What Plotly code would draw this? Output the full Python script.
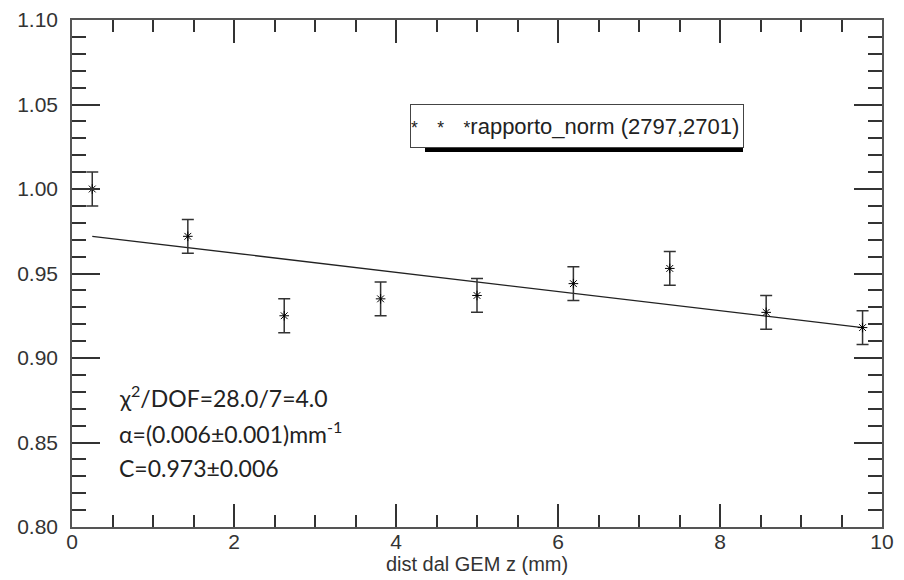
import plotly.graph_objects as go

dist_z = [0.25, 1.43, 2.62, 3.81, 5.00, 6.19, 7.38, 8.57, 9.76]
rapporto_norm = [1.000, 0.972, 0.925, 0.935, 0.937, 0.944, 0.953, 0.927, 0.918]
errors = [0.010, 0.010, 0.010, 0.010, 0.010, 0.010, 0.010, 0.010, 0.010]
fit_x = [0.25, 9.76]
fit_y = [0.972, 0.918]

legend_text = ('<span style="font-size:17.5px">*&nbsp;&nbsp;&nbsp;&nbsp;*&nbsp;&nbsp;&nbsp;&nbsp;*</span>'
               'rapporto_norm (2797,2701)')
fit_lines = ["χ<sup>2</sup>/DOF=28.0/7=4.0",
             "α=(0.006±0.001)mm<sup>-1</sup>",
             "C=0.973±0.006"]
fit_text_y = [0.877, 0.856, 0.835]

fig = go.Figure()
fig.add_trace(go.Scatter(x=fit_x, y=fit_y, mode="lines",
                         line=dict(color="#222", width=1.3), showlegend=False))
fig.add_trace(go.Scatter(x=dist_z, y=rapporto_norm, mode="markers",
                         marker=dict(symbol="asterisk-open", size=8, color="black",
                                     line=dict(color="black", width=1)),
                         error_y=dict(type="data", array=errors, visible=True,
                                      color="#333", thickness=1.5, width=6),
                         showlegend=False))

axis_common = dict(showline=True, linecolor="#555", linewidth=1.5, mirror="allticks",
                   ticks="inside", tickcolor="#333", showgrid=False, zeroline=False,
                   automargin=False,
                   tickfont=dict(family="Liberation Sans, Arial", size=21, color="#333"))
fig.update_xaxes(range=[0, 10], dtick=2, ticklen=23, tickwidth=1.5, ticklabelstandoff=-5,
                 minor=dict(dtick=0.5, ticks="inside", ticklen=12, tickcolor="#333", tickwidth=1.5),
                 title=dict(text="dist dal GEM z (mm)", standoff=0,
                            font=dict(family="Liberation Sans, Arial", size=20, color="#333")),
                 **axis_common)
fig.update_yaxes(range=[0.80, 1.10], dtick=0.05, tickformat=".2f", ticklen=28, tickwidth=1.5,
                 ticklabelstandoff=8,
                 minor=dict(dtick=0.01, ticks="inside", ticklen=14, tickcolor="#333", tickwidth=1.5),
                 **axis_common)

# legend box with shadow
fig.add_shape(type="rect", xref="paper", yref="paper",
              x0=(425-72)/810, x1=(743-72)/810, y0=(527-152)/507, y1=(527-147)/507,
              fillcolor="black", line=dict(width=0), layer="above")
fig.add_annotation(xref="paper", yref="paper", x=(410-72)/810, y=(527-104)/507,
                   xanchor="left", yanchor="top", text=legend_text, showarrow=False,
                   font=dict(family="Liberation Sans, Arial", size=22, color="#222"),
                   bordercolor="#444", borderwidth=1, borderpad=0, bgcolor="white",
                   width=332, height=42, align="left")

for t, yv in zip(fit_lines, fit_text_y):
    fig.add_annotation(x=0.55, y=yv, xref="x", yref="y",
                       xanchor="left", yanchor="middle", text=t, showarrow=False,
                       font=dict(family="Lato, Calibri, sans-serif", size=23, color="#222"))

fig.update_layout(width=904, height=580, margin=dict(l=72, r=22, t=20, b=53),
                  plot_bgcolor="white", paper_bgcolor="white")
fig.write_html("out.html")
